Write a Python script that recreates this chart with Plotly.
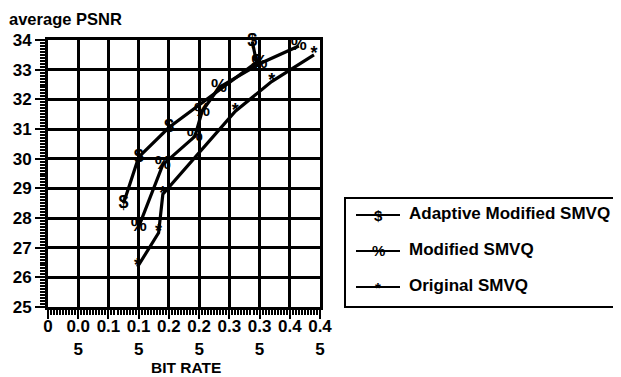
import plotly.graph_objects as go

# ---- data ----
adaptive_x = [0.125, 0.15, 0.20, 0.345, 0.338]
adaptive_y = [28.5, 30.05, 31.05, 33.25, 33.95]

modified_x = [0.15, 0.19, 0.243, 0.255, 0.283, 0.35, 0.415]
modified_y = [27.7, 29.8, 30.75, 31.6, 32.4, 33.2, 33.8]

original_x = [0.148, 0.183, 0.19, 0.31, 0.37, 0.44]
original_y = [26.35, 27.5, 28.8, 31.6, 32.6, 33.5]

x_tickvals = [0, 0.05, 0.1, 0.15, 0.2, 0.25, 0.3, 0.35, 0.4, 0.45]
x_ticktext = ["0", "0.0<br>5", "0.1", "0.1<br>5", "0.2", "0.2<br>5", "0.3", "0.3<br>5", "0.4", "0.4<br>5"]
y_tickvals = [25, 26, 27, 28, 29, 30, 31, 32, 33, 34]

series = [
    ("Adaptive Modified SMVQ", "$", adaptive_x, adaptive_y),
    ("Modified SMVQ", "%", modified_x, modified_y),
    ("Original SMVQ", "*", original_x, original_y),
]

# ---- layout geometry (page has an 8px body margin) ----
OFF = 8
W, H = 621 - OFF, 377 - OFF
L, T = 48 - OFF, 40 - OFF
PW, PH = 272, 267
R, B = W - L - PW, H - T - PH


def px(x):  # page pixel -> paper
    return (x - OFF - L) / PW


def py(y):
    return (T + PH - (y - OFF)) / PH


FONT = "Liberation Sans, Arial, sans-serif"

fig = go.Figure()
for name, sym, xs, ys in series:
    fig.add_trace(go.Scatter(
        x=xs, y=ys, mode="lines+text", name=name,
        text=["<b>%s</b>" % sym] * len(xs), textposition="middle center",
        textfont=dict(family=FONT, size=18, color="black"),
        line=dict(color="black", width=3.2),
        showlegend=False, hoverinfo="skip", cliponaxis=False,
    ))

shapes = []
annotations = []

# manual legend
shapes.append(dict(type="rect", xref="paper", yref="paper",
                   x0=px(345), x1=px(615), y0=py(307), y1=py(198),
                   line=dict(color="black", width=2), fillcolor="white"))
for i, (name, sym, xs, ys) in enumerate(series):
    yc = [213, 249, 285][i]
    shapes.append(dict(type="line", xref="paper", yref="paper",
                       x0=px(356), x1=px(400), y0=py(yc + 2), y1=py(yc + 2),
                       line=dict(color="black", width=2)))
    annotations.append(dict(xref="paper", yref="paper", x=px(378), y=py(yc + 2),
                            text="<b>%s</b>" % sym, showarrow=False,
                            xanchor="center", yanchor="middle",
                            font=dict(family=FONT, size=15, color="black")))
    annotations.append(dict(xref="paper", yref="paper", x=px(407), y=py(yc),
                            text="<b>%s</b>" % name, showarrow=False,
                            xanchor="left", yanchor="middle",
                            font=dict(family=FONT, size=17, color="black")))

annotations.append(dict(xref="paper", yref="paper", x=px(7), y=py(19),
                        text="<b>average PSNR</b>", showarrow=False,
                        xanchor="left", yanchor="middle",
                        font=dict(family=FONT, size=16.5, color="black")))
annotations.append(dict(xref="paper", yref="paper", x=px(186), y=py(367),
                        text="<b>BIT RATE</b>", showarrow=False,
                        xanchor="center", yanchor="middle",
                        font=dict(family=FONT, size=15.5, color="black")))

axis_common = dict(
    showline=True, linecolor="black", linewidth=3, mirror=True,
    showgrid=True, gridcolor="black", gridwidth=3, zeroline=False,
    ticks="outside", tickwidth=2, tickcolor="black", automargin=False,
    tickfont=dict(family=FONT, size=17, color="black"),
)

fig.update_layout(
    width=W, height=H,
    margin=dict(l=L, r=R, t=T, b=B, pad=0),
    paper_bgcolor="white", plot_bgcolor="white",
    showlegend=False,
    xaxis=dict(range=[0, 0.45], tickmode="array", tickvals=x_tickvals,
               ticktext=["<b>%s</b>" % t.replace("<br>", "</b><br><b>") for t in x_ticktext],
               ticklen=9, ticklabelstandoff=-7,
               minor=dict(dtick=0.005, ticks="outside", ticklen=5, tickwidth=1.5,
                          tickcolor="black", showgrid=False),
               **axis_common),
    yaxis=dict(range=[25, 34], tickmode="array", tickvals=y_tickvals,
               ticktext=["<b>%d</b>" % v for v in y_tickvals],
               ticklen=10,
               minor=dict(dtick=0.1, ticks="outside", ticklen=5, tickwidth=1.5,
                          tickcolor="black", showgrid=False),
               **axis_common),
    shapes=shapes,
    annotations=annotations,
)

fig.write_html("out.html", config={"displayModeBar": False})
